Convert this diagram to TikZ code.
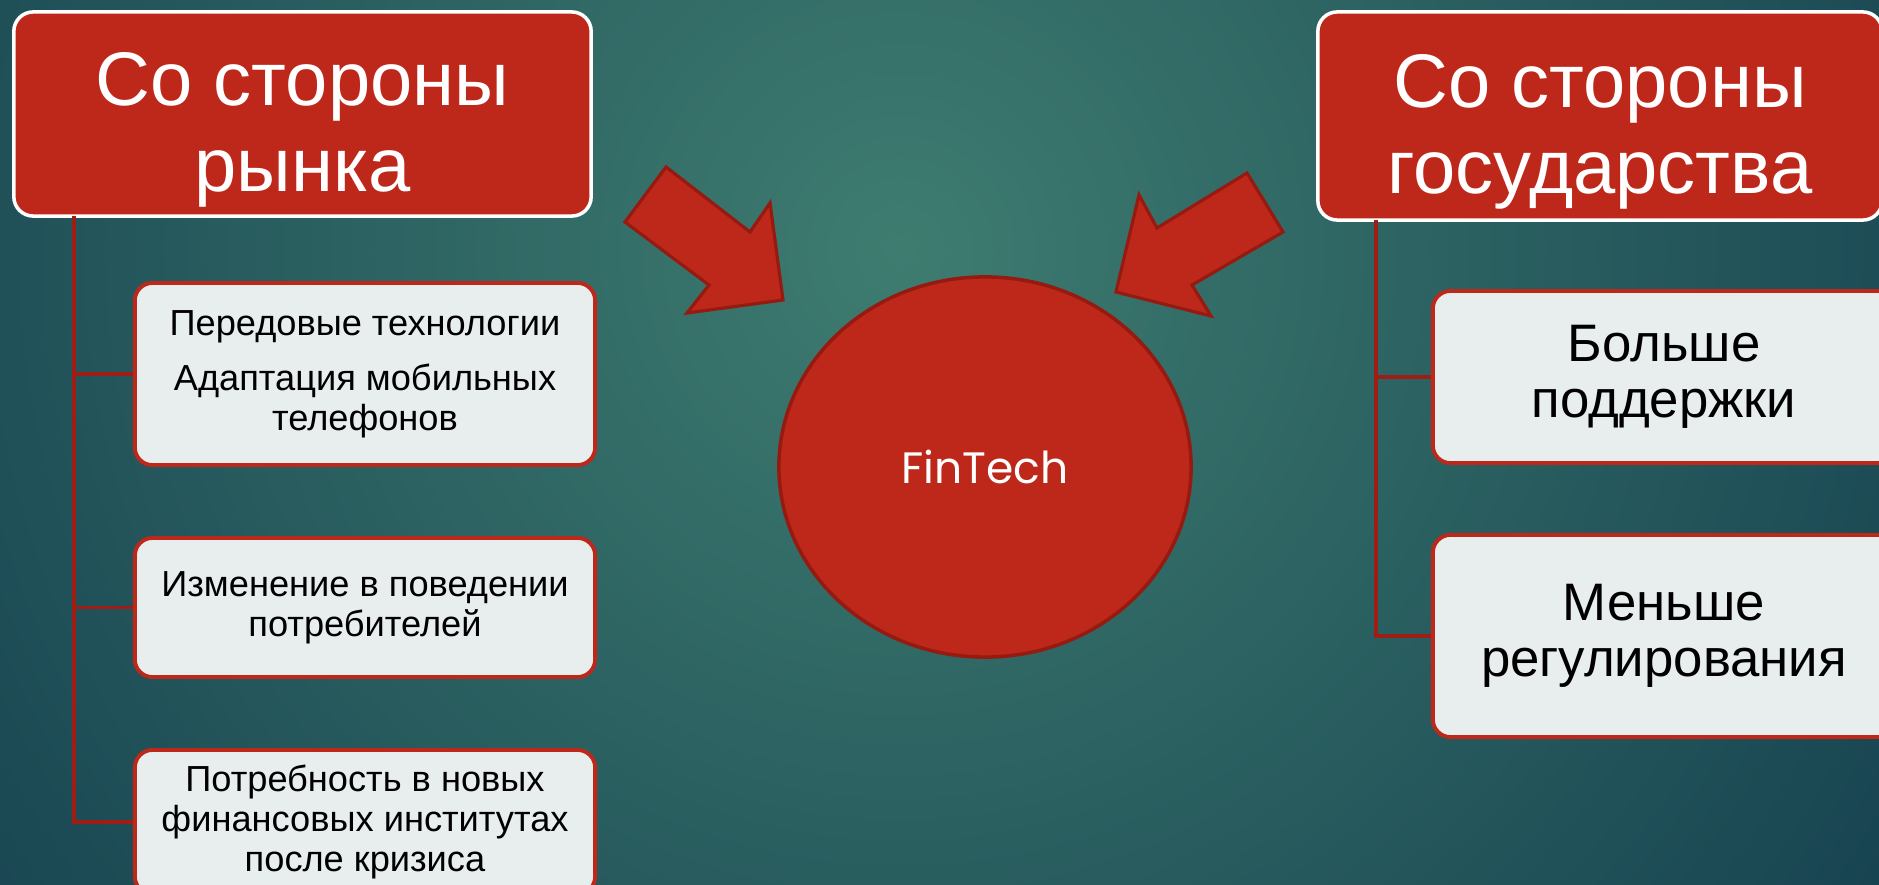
\documentclass[tikz,border=0pt]{standalone}
\usepackage{fontspec}
\setmainfont{Liberation Sans}
\newfontfamily\gothicfont{Poppins}
\usetikzlibrary{shapes.geometric}
\definecolor{bgLight}{RGB}{62,124,112}
\definecolor{bgDark}{RGB}{22,66,80}
\definecolor{redFill}{RGB}{190,40,26}
\definecolor{redEdge}{RGB}{150,26,16}
\definecolor{boxFill}{RGB}{232,238,238}
\definecolor{lineRed}{RGB}{158,30,22}
\tikzset{
    header/.style={
        rectangle, draw=white, line width=1pt, rounded corners=5.5pt,
        fill=redFill, text=white, align=center, inner sep=0pt,
        font=\fontsize{21.6}{24.4}\selectfont
    },
    factor/.style={
        rectangle, draw=redFill, line width=1.1pt, rounded corners=5pt,
        fill=boxFill, text=black, align=center, inner sep=0pt,
        minimum width=4.6cm, font=\fontsize{10.3}{11.4}\selectfont
    },
    bigfactor/.style={
        factor, minimum width=4.62cm, font=\fontsize{15}{15.9}\selectfont
    },
    branch/.style={draw=lineRed, line width=0.9pt},
    bigarrow/.style={fill=redFill, draw=redEdge, line width=0.9pt, line join=miter},
    hub/.style={
        ellipse, fill=redFill, draw=redEdge, line width=1pt,
        text=white, inner sep=0pt,
        font=\gothicfont\fontsize{12.5}{14}\selectfont
    }
}

\begin{document}
\begin{tikzpicture}[x=0.01cm, y=-0.01cm]

\useasboundingbox (0,0) rectangle (1879,885);
\clip (0,0) rectangle (1879,885);

% Background
\shade[inner color=bgLight, outer color=bgDark] (-300,-950) rectangle (2100,1450);

% Headers
\node[header, minimum width=5.77cm, minimum height=2.04cm] (hdrL) at (302.5,114) {\rule{0pt}{24pt}Со стороны\\рынка};
\node[header, minimum width=5.64cm, minimum height=2.08cm] (hdrR) at (1600,116) {\rule{0pt}{24pt}Со стороны\\государства};

% Market side
\node[factor, minimum height=1.82cm] (mkt1) at (365,374) {Передовые технологии\\[4.2pt]Адаптация мобильных\\телефонов};
\node[factor, minimum height=1.39cm] (mkt2) at (365,607.5) {Изменение в поведении\\потребителей};
\node[factor, minimum height=1.44cm] (mkt3) at (365,822) {Потребность в новых\\финансовых институтах\\после кризиса};

\coordinate (trunkL) at (74,216);
\draw[branch] (trunkL) |- (mkt1.west);
\draw[branch] (trunkL) |- (mkt2.west);
\draw[branch] (trunkL) |- (mkt3.west);

% State side
\node[bigfactor, minimum height=1.72cm] (gov1) at (1664,377) {Больше\\поддержки};
\node[bigfactor, minimum height=2.02cm] (gov2) at (1664,636) {Меньше\\регулирования};

\coordinate (trunkR) at (1376,220);
\draw[branch] (trunkR) |- (gov1.west);
\draw[branch] (trunkR) |- (gov2.west);

% Centre
\node[hub, minimum width=4.12cm, minimum height=3.80cm] (fintech) at (985,467) {FinTech};

% Block arrows
\draw[bigarrow] (666,167) -- (625,222) -- (709,285) -- (687,313) -- (783,300) -- (770,203) -- (750,232) -- cycle;
\draw[bigarrow] (1247,173) -- (1283,232) -- (1192,285) -- (1211,316) -- (1116,292) -- (1139,195) -- (1157,228) -- cycle;

\end{tikzpicture}
\end{document}
